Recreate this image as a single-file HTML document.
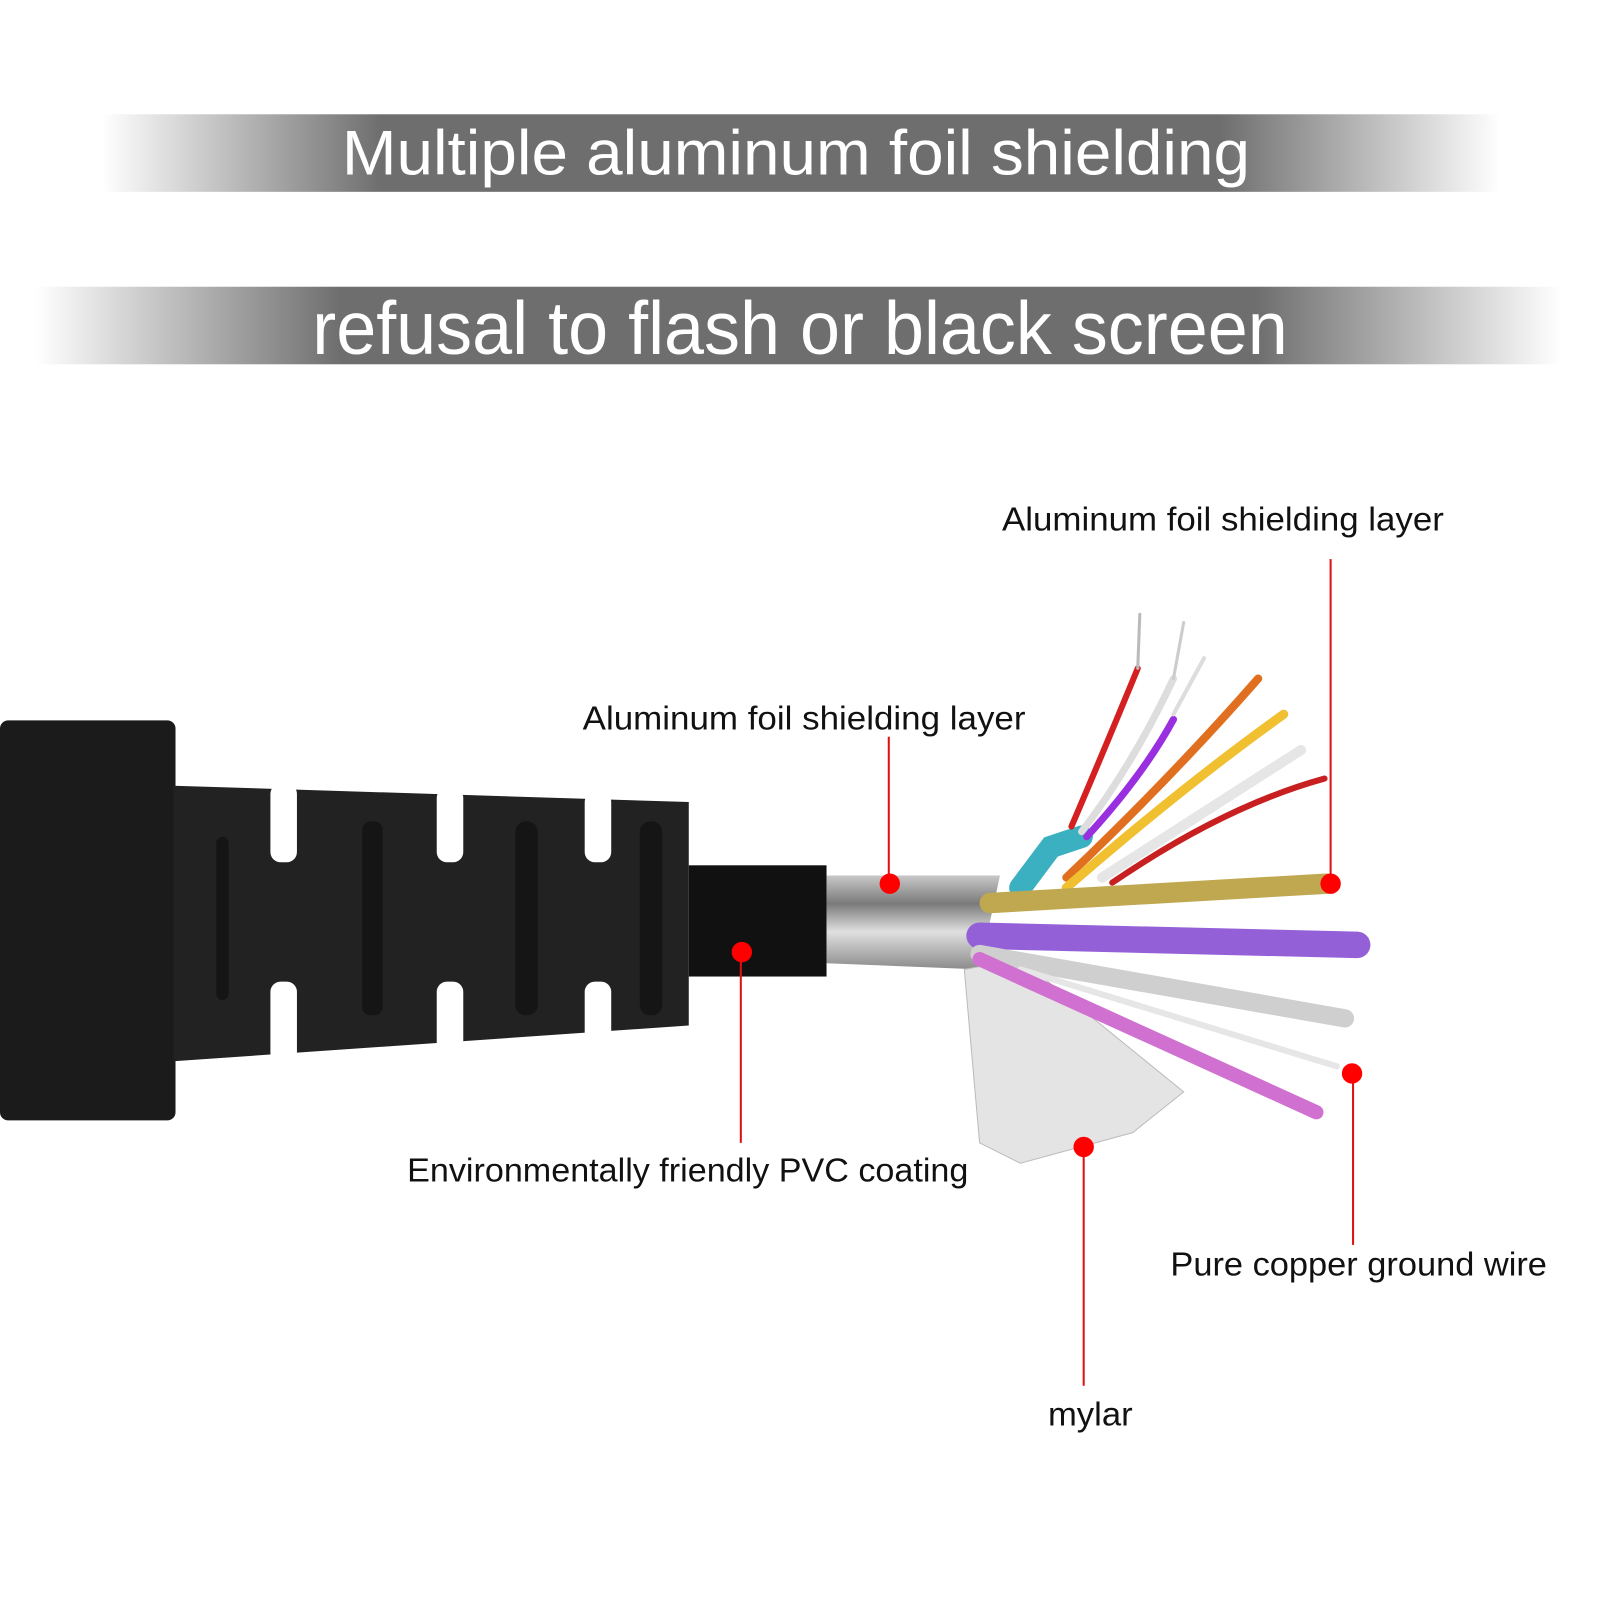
<!DOCTYPE html>
<html><head><meta charset="utf-8"><style>
html,body{margin:0;padding:0;background:#fff;}
svg{display:block}
text{font-family:"Liberation Sans",sans-serif;}
</style></head><body>
<svg width="1600" height="1600" viewBox="0 0 1568 1568" xmlns="http://www.w3.org/2000/svg">
<defs>
<linearGradient id="b1" x1="0" x2="1" y1="0" y2="0">
<stop offset="0" stop-color="#fff"/><stop offset="0.2" stop-color="#6e6e6e"/><stop offset="0.8" stop-color="#6e6e6e"/><stop offset="1" stop-color="#fff"/>
</linearGradient>
<linearGradient id="foil" x1="0" x2="0" y1="0" y2="1">
<stop offset="0" stop-color="#c8c8c8"/><stop offset="0.3" stop-color="#7a7a7a"/><stop offset="0.6" stop-color="#e0e0e0"/><stop offset="1" stop-color="#8a8a8a"/>
</linearGradient>
</defs>
<rect width="1568" height="1568" fill="#fff"/>
<rect x="100" y="112" width="1370" height="76" fill="url(#b1)"/>
<text x="335" y="171" font-size="62" fill="#fff" textLength="890" lengthAdjust="spacingAndGlyphs">Multiple aluminum foil shielding</text>
<rect x="35" y="281" width="1495" height="76" fill="url(#b1)"/>
<text x="306" y="347" font-size="74" fill="#fff" textLength="956" lengthAdjust="spacingAndGlyphs">refusal to flash or black screen</text>

<!-- connector -->
<rect x="0" y="706" width="172" height="392" rx="8" fill="#1b1b1b"/>
<path d="M170 770 L675 786 L675 1005 L170 1040 Z" fill="#222"/>
<g fill="#fff">
<rect x="265" y="768" width="26" height="77" rx="10"/><rect x="428" y="772" width="26" height="73" rx="10"/><rect x="573" y="776" width="26" height="69" rx="10"/>
<rect x="265" y="962" width="26" height="80" rx="10"/><rect x="428" y="962" width="26" height="75" rx="10"/><rect x="573" y="962" width="26" height="70" rx="10"/>
</g>
<g fill="#151515"><rect x="212" y="820" width="12" height="160" rx="6"/><rect x="355" y="805" width="20" height="190" rx="8"/><rect x="505" y="805" width="22" height="190" rx="10"/><rect x="627" y="805" width="22" height="190" rx="10"/></g>
<rect x="675" y="848" width="135" height="109" fill="#111"/>
<path d="M810 858 L980 858 L960 950 L810 944 Z" fill="url(#foil)"/>
<!-- fan mylar -->
<path d="M945 950 L1000 940 L1160 1070 L1110 1110 L1000 1140 L960 1120 Z" fill="#e4e4e4" stroke="#bbb"/>
<!-- wires -->
<g fill="none" stroke-linecap="round">
<path d="M1000 870 L1030 830 L1060 820" stroke="#3bb0c0" stroke-width="22"/>
<path d="M1050 810 Q1080 740 1115 655" stroke="#d42020" stroke-width="6"/>
<path d="M1115 655 L1117 602" stroke="#bbb" stroke-width="3"/>
<path d="M1060 815 Q1110 750 1150 665" stroke="#ddd" stroke-width="7"/>
<path d="M1150 665 L1160 610" stroke="#ccc" stroke-width="3"/>
<path d="M1065 820 Q1120 760 1150 705" stroke="#9a2fe0" stroke-width="7"/>
<path d="M1150 700 L1180 645" stroke="#ddd" stroke-width="4"/>
<path d="M1045 860 Q1150 760 1233 665" stroke="#e07020" stroke-width="8"/>
<path d="M1045 870 Q1160 770 1258 700" stroke="#f0c030" stroke-width="9"/>
<path d="M1080 860 Q1190 790 1275 735" stroke="#e6e6e6" stroke-width="10"/>
<path d="M1090 865 Q1200 790 1298 763" stroke="#c82020" stroke-width="6"/>
<path d="M970 885 L1300 866" stroke="#c0a850" stroke-width="20"/>
<path d="M960 917 L1330 926" stroke="#9460d8" stroke-width="26"/>
<path d="M960 935 L1318 998" stroke="#cfcfcf" stroke-width="18"/>
<path d="M1000 950 L1310 1045" stroke="#e6e6e6" stroke-width="6"/>
<path d="M960 940 L1290 1090" stroke="#d070d0" stroke-width="14"/>
</g>
<!-- callouts -->
<g stroke="#e01010" stroke-width="2">
<line x1="871" y1="722" x2="871" y2="866"/><line x1="1304" y1="548" x2="1304" y2="866"/>
<line x1="726" y1="933" x2="726" y2="1120"/><line x1="1062" y1="1124" x2="1062" y2="1358"/>
<line x1="1326" y1="1052" x2="1326" y2="1220"/>
</g>
<g fill="#f00"><circle cx="872" cy="866" r="10"/><circle cx="1304" cy="866" r="10"/><circle cx="727" cy="933" r="10"/><circle cx="1062" cy="1124" r="10"/><circle cx="1325" cy="1052" r="10"/></g>
<g font-size="33" fill="#111" lengthAdjust="spacingAndGlyphs">
<text x="982" y="520" textLength="433" lengthAdjust="spacingAndGlyphs">Aluminum foil shielding layer</text>
<text x="571" y="715" textLength="434" lengthAdjust="spacingAndGlyphs">Aluminum foil shielding layer</text>
<text x="399" y="1158" textLength="550" lengthAdjust="spacingAndGlyphs">Environmentally friendly PVC coating</text>
<text x="1147" y="1250" textLength="369" lengthAdjust="spacingAndGlyphs">Pure copper ground wire</text>
<text x="1027" y="1397" textLength="83" lengthAdjust="spacingAndGlyphs">mylar</text>
</g>
</svg>
</body></html>
